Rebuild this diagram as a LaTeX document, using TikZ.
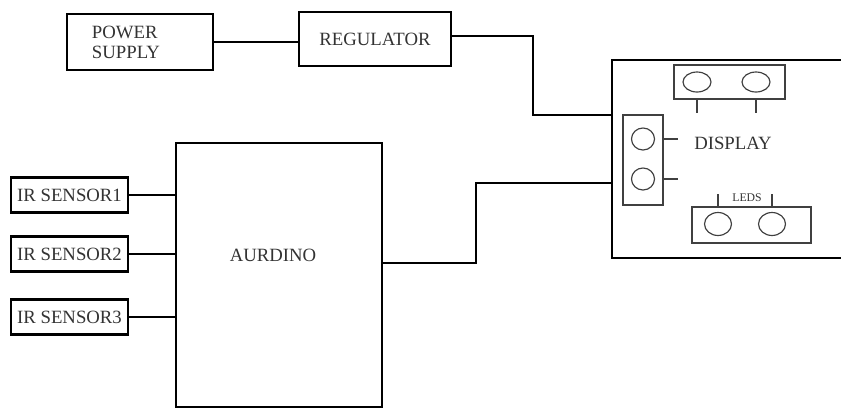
\documentclass[tikz,border=0pt]{standalone}
\usepackage{fontspec}
\setmainfont{Liberation Serif}
\usetikzlibrary{
positioning,
shapes.geometric,
calc
}

\begin{document}
\begin{tikzpicture}[
x=0.03cm,
y=-0.03cm,
block/.style={
draw,
line width=2pt,
align=center,
inner sep=1pt,
font=\fontsize{16}{17}\selectfont,
text=black!80
},
lbl/.style={font=\fontsize{16}{17}\selectfont, text=black!80},
wire/.style={draw, line width=1.7pt},
part/.style={draw=black!75, line width=1pt},
led/.style={draw=black!75, ellipse, line width=1pt, inner sep=0pt}
]
\useasboundingbox (0,0) rectangle (841,408);

% top row
\node[block, minimum width=4.38cm, minimum height=1.68cm, align=left,
text width=2.88cm, inner xsep=0.75cm] (psupply) at (140,42) {POWER\\SUPPLY};
\node[block, minimum width=4.56cm, minimum height=1.62cm] (regulator) at (375,39) {REGULATOR};

% controller and sensors
\node[block, minimum width=6.18cm, minimum height=7.92cm] (arduino) at (279,275) {};
\node[lbl] (ardlbl) at (273,255) {AURDINO};
\foreach \i/\y in {1/195,2/254,3/317}
\node[block, minimum width=3.51cm, minimum height=1.05cm] (irsensor\i) at (69.5,\y) {IR SENSOR\i};

% display board (right edge runs off the page)
\node[block, minimum width=7.02cm, minimum height=5.94cm] (display) at (729,159) {};
\node[lbl] (displbl) at (733,143) {DISPLAY};

\node[part, minimum width=3.33cm, minimum height=1.02cm] (ledtop) at (729.5,82) {};
\node[led, minimum width=0.84cm, minimum height=0.6cm] (ledtopa) at (697,82) {};
\node[led, minimum width=0.84cm, minimum height=0.6cm] (ledtopb) at (756,82) {};

\node[part, minimum width=1.2cm, minimum height=2.7cm] (ledleft) at (643,160) {};
\node[led, minimum width=0.69cm, minimum height=0.66cm] (ledlefta) at (643,139) {};
\node[led, minimum width=0.69cm, minimum height=0.66cm] (ledleftb) at (643,179) {};

\node[part, minimum width=3.57cm, minimum height=1.08cm] (ledbot) at (751.5,225) {};
\node[led, minimum width=0.81cm, minimum height=0.69cm] (ledbota) at (718,224) {};
\node[led, minimum width=0.81cm, minimum height=0.69cm] (ledbotb) at (772,224) {};
\node[font=\fontsize{10}{11}\selectfont, text=black!80] (ledslbl) at (747,198) {LEDS};

% pins
\draw[part] (ledtopa |- ledtop.south) -- ++(0,13);
\draw[part] (ledtopb |- ledtop.south) -- ++(0,13);
\draw[part] (ledleft.east |- ledlefta) -- ++(14,0);
\draw[part] (ledleft.east |- ledleftb) -- ++(14,0);
\draw[part] (ledbota |- ledbot.north) -- ++(0,-12);
\draw[part] (ledbotb |- ledbot.north) -- ++(0,-12);

% wiring
\coordinate (regbend) at (533,115);
\coordinate (ardbend) at (476,183);
\draw[wire] (psupply.east) -- (psupply.east -| regulator.west);
\draw[wire] ([yshift=0.09cm]regulator.east) -| (regbend) -- (regbend -| display.west);
\draw[wire] ([yshift=0.36cm]arduino.east) -| (ardbend) -- (ardbend -| display.west);
\foreach \i in {1,2,3}
\draw[wire] (irsensor\i.east) -- (irsensor\i.east -| arduino.west);

\end{tikzpicture}
\end{document}
